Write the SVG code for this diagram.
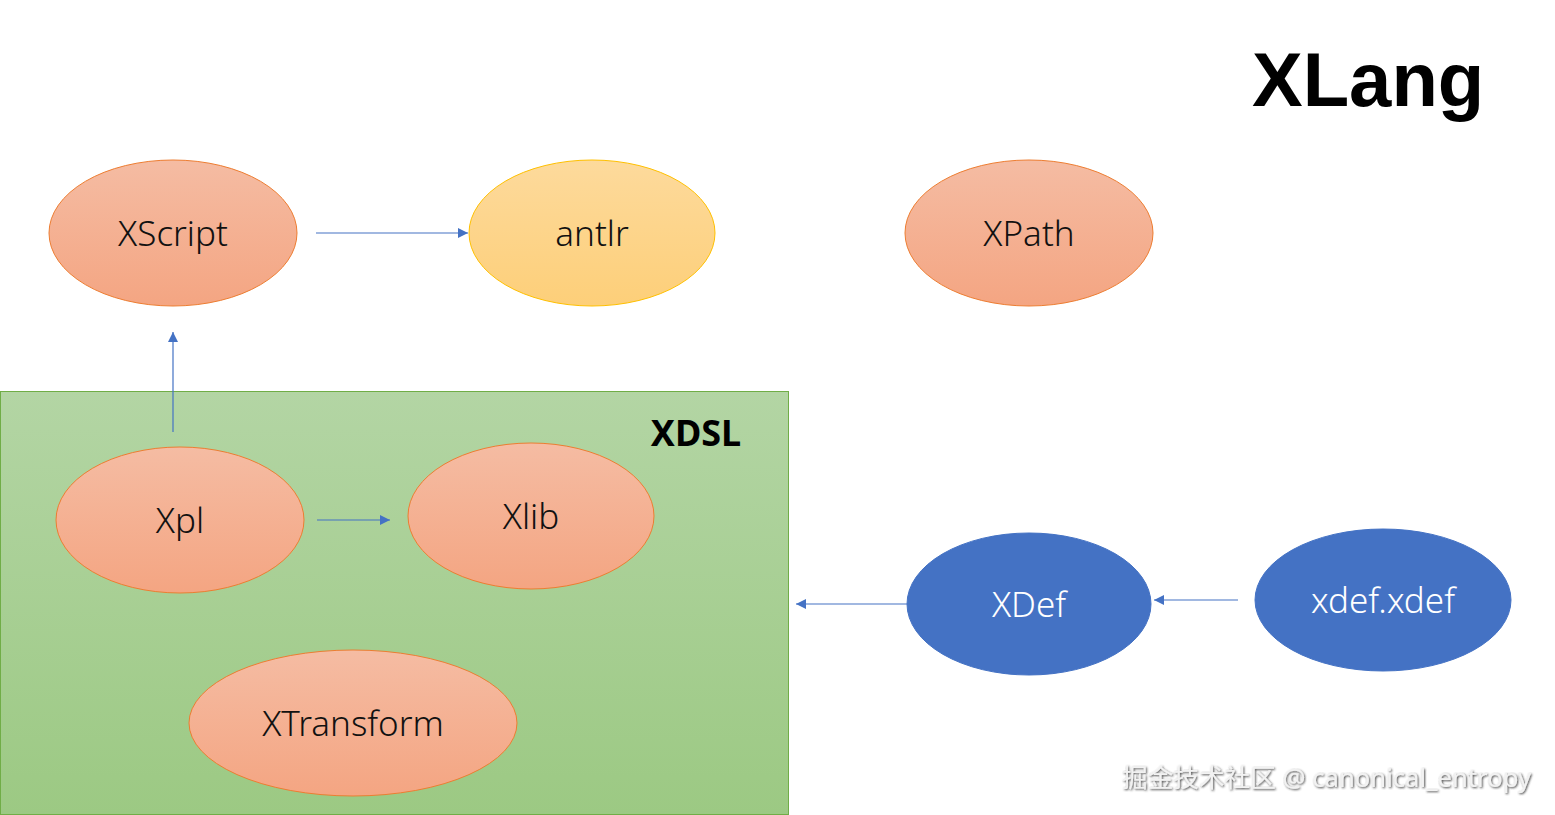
<svg xmlns="http://www.w3.org/2000/svg" width="1555" height="815" viewBox="0 0 1555 815">
<defs>
<linearGradient id="gOrange" x1="0" y1="0" x2="0" y2="1"><stop offset="0" stop-color="#f5bca3"/><stop offset="1" stop-color="#f4a582"/></linearGradient>
<linearGradient id="gYellow" x1="0" y1="0" x2="0" y2="1"><stop offset="0" stop-color="#fdda9c"/><stop offset="1" stop-color="#fdcf79"/></linearGradient>
<linearGradient id="gGreen" x1="0" y1="0" x2="0" y2="1"><stop offset="0" stop-color="#b3d5a4"/><stop offset="1" stop-color="#9cc983"/></linearGradient>
<marker id="arr" viewBox="0 0 10 10" refX="10" refY="5" markerWidth="12" markerHeight="10" markerUnits="userSpaceOnUse" orient="auto"><path d="M0,0 L10,5 L0,10 Z" fill="#4472c4"/></marker>
<filter id="shadow" x="-5%" y="-30%" width="110%" height="160%"><feDropShadow dx="1" dy="1" stdDeviation="0.8" flood-color="#333" flood-opacity="0.9"/></filter>
</defs>
<style>
.org{fill:url(#gOrange);stroke:#ed7d31;stroke-width:1}
.yel{fill:url(#gYellow);stroke:#ffc000;stroke-width:1}
.blu{fill:#4472c4;stroke:#4472c4;stroke-width:1}
.lbl{font-family:"Noto Sans","Liberation Sans",sans-serif;font-size:35px;font-weight:300;text-anchor:middle;fill:#111}
.wl{fill:#ffffff}
.con{stroke:#4472c4;stroke-width:1.2;fill:none;marker-end:url(#arr)}
</style>
<rect width="1555" height="815" fill="#ffffff"/>
<g id="title"><text x="1252" y="106" font-family="Liberation Sans, Arial, sans-serif" font-weight="bold" font-size="76" fill="#000">XLang</text></g>
<g id="xdsl"><rect x="0.5" y="391.5" width="788" height="423" fill="url(#gGreen)" stroke="#70ad47" stroke-width="1"/><text x="696" y="446" text-anchor="middle" font-family="Noto Sans, Liberation Sans, sans-serif" font-weight="bold" font-size="36" fill="#000">XDSL</text></g>
<g id="xscript"><ellipse class="org" cx="173" cy="233" rx="124" ry="73"/><text class="lbl" x="173" y="246">XScript</text></g>
<g id="antlr"><ellipse class="yel" cx="592" cy="233" rx="123" ry="73"/><text class="lbl" x="592" y="246">antlr</text></g>
<g id="xpath"><ellipse class="org" cx="1029" cy="233" rx="124" ry="73"/><text class="lbl" x="1029" y="246">XPath</text></g>
<g id="xpl"><ellipse class="org" cx="180" cy="520" rx="124" ry="73"/><text class="lbl" x="180" y="533">Xpl</text></g>
<g id="xlib"><ellipse class="org" cx="531" cy="516" rx="123" ry="73"/><text class="lbl" x="531" y="529">Xlib</text></g>
<g id="xtransform"><ellipse class="org" cx="353" cy="723" rx="164" ry="73"/><text class="lbl" x="353" y="736">XTransform</text></g>
<g id="xdef"><ellipse class="blu" cx="1029" cy="604" rx="122" ry="71"/><text class="lbl wl" x="1029" y="617">XDef</text></g>
<g id="xdefxdef"><ellipse class="blu" cx="1383" cy="600" rx="128" ry="71"/><text class="lbl wl" x="1383" y="613">xdef.xdef</text></g>
<g id="connectors">
<line class="con" x1="316" y1="233" x2="468" y2="233"/>
<line class="con" x1="173" y1="432" x2="173" y2="332"/>
<line class="con" x1="317" y1="520" x2="390" y2="520"/>
<line class="con" x1="907" y1="604" x2="796" y2="604"/>
<line class="con" x1="1238" y1="600" x2="1154" y2="600"/>
</g>
<g id="watermark"><text x="1122" y="787" font-family="Noto Sans, Noto Sans CJK SC, sans-serif" font-size="25" textLength="409" lengthAdjust="spacingAndGlyphs" fill="#f2f2f2" filter="url(#shadow)">掘金技术社区 @ canonical_entropy</text></g>
</svg>
